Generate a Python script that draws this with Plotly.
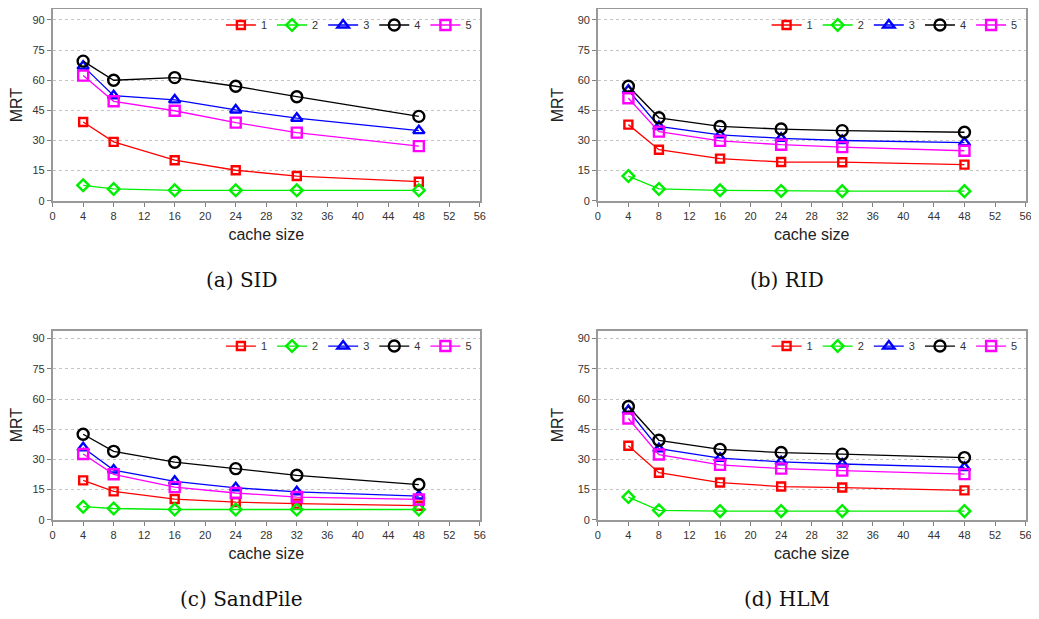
import plotly.graph_objects as go

OFF = 8  # page body margin offset
W, H = 1039 - OFF, 619 - OFF

cache_sizes = [4, 8, 16, 24, 32, 48]
series_names = ["1", "2", "3", "4", "5"]

# MRT values per panel, per series
sid = {
    "1": [39.2, 29.3, 20.2, 15.2, 12.3, 9.5],
    "2": [7.7, 5.9, 5.2, 5.2, 5.2, 5.2],
    "3": [67.0, 52.3, 50.2, 45.2, 41.1, 34.9],
    "4": [69.5, 60.0, 61.3, 57.0, 51.8, 42.0],
    "5": [62.3, 49.5, 44.8, 38.9, 33.9, 27.2],
}
rid = {
    "1": [37.9, 25.4, 21.0, 19.3, 19.2, 18.0],
    "2": [12.3, 5.9, 5.2, 4.9, 4.8, 4.8],
    "3": [55.0, 37.0, 32.8, 31.1, 30.0, 28.9],
    "4": [57.0, 41.3, 37.0, 35.7, 34.9, 34.1],
    "5": [51.0, 34.4, 29.8, 27.9, 26.7, 24.9],
}
sandpile = {
    "1": [19.6, 14.1, 10.3, 8.8, 8.0, 7.0],
    "2": [6.5, 5.6, 5.1, 5.1, 5.1, 5.1],
    "3": [35.8, 24.7, 19.1, 15.9, 13.9, 11.8],
    "4": [42.5, 34.0, 28.6, 25.4, 22.1, 17.5],
    "5": [32.7, 22.6, 16.2, 13.3, 11.3, 10.1],
}
hlm = {
    "1": [36.8, 23.4, 18.5, 16.5, 16.0, 14.6],
    "2": [11.3, 4.7, 4.3, 4.3, 4.3, 4.3],
    "3": [54.3, 35.3, 30.6, 28.8, 27.7, 26.0],
    "4": [56.3, 39.5, 35.0, 33.4, 32.6, 30.9],
    "5": [50.3, 32.4, 27.3, 25.4, 24.4, 22.7],
}
panels = [sid, rid, sandpile, hlm]
captions = ["(a) SID", "(b) RID", "(c) SandPile", "(d) HLM"]

x_ticks = list(range(0, 57, 4))
y_ticks = [0, 15, 30, 45, 60, 75, 90]

colors = {"1": "#ff0000", "2": "#00ee00", "3": "#0000ff", "4": "#000000", "5": "#ff00ff"}
symbols = {"1": "square-open", "2": "diamond-open", "3": "triangle-up-open",
           "4": "circle-open", "5": "square-open"}
msizes = {"1": 8, "2": 9, "3": 10, "4": 11, "5": 10}

# pixel geometry (page coords) of the four plot areas: (left, right, top, bottom, ymax)
geo = [
    (50, 481, 8.5, 202, 95.2),
    (600, 1031.5, 8.5, 202, 95.2),
    (50, 481, 333.3, 524.7, 94.0),
    (600, 1031.5, 333.3, 524.7, 94.0),
]


def fx(px):
    return min(max((px - OFF) / W, 0), 1)


def fy(py):
    return min(max(1 - (py - OFF) / H, 0), 1)


fig = go.Figure()
layout = dict(
    width=W, height=H, margin=dict(l=0, r=0, t=0, b=0),
    paper_bgcolor="white", plot_bgcolor="white",
    font=dict(family="Liberation Sans, Arial, sans-serif", color="#333333"),
    annotations=[],
)

for i, (data, (l, r, t, b, ymax)) in enumerate(zip(panels, geo)):
    n = i + 1
    xa = "x" if n == 1 else f"x{n}"
    ya = "y" if n == 1 else f"y{n}"
    lg = "legend" if n == 1 else f"legend{n}"
    for s in series_names:
        fig.add_trace(go.Scatter(
            x=cache_sizes, y=data[s], name=s, mode="lines+markers",
            line=dict(color=colors[s], width=1.3),
            marker=dict(symbol=symbols[s], size=msizes[s], color=colors[s],
                        line=dict(width=2.4, color=colors[s])),
            xaxis=xa, yaxis=ya, legend=lg, showlegend=True,
        ))
    xkey = "xaxis" if n == 1 else f"xaxis{n}"
    ykey = "yaxis" if n == 1 else f"yaxis{n}"
    layout[xkey] = dict(
        domain=[fx(l), fx(r)], range=[0, 56], anchor=ya,
        tickvals=x_ticks, ticks="outside", ticklen=4, tickcolor="#808080",
        showline=True, linecolor="#999999", linewidth=1.5, mirror=True,
        showgrid=False, zeroline=False,
        tickfont=dict(size=11, color="#333333"),
        title=dict(text="cache size", font=dict(size=16, color="#222222"), standoff=8),
    )
    layout[ykey] = dict(
        domain=[fy(b), fy(t)], range=[0, ymax], anchor=xa,
        tickvals=y_ticks, ticks="outside", ticklen=4, tickcolor="#808080",
        showline=True, linecolor="#999999", linewidth=1.5, mirror=True,
        showgrid=True, gridcolor="#c4c4c4", griddash="3px,3px", gridwidth=1,
        zeroline=False,
        tickfont=dict(size=11, color="#333333"),
        title=dict(text="MRT", font=dict(size=16, color="#222222"), standoff=10),
    )
    layout[lg] = dict(
        orientation="h", x=fx(r - 3), xanchor="right",
        y=fy(t + 1), yanchor="top",
        bgcolor="rgba(0,0,0,0)", font=dict(size=11, color="#333333"),
        itemwidth=30, tracegroupgap=0, traceorder="normal",
    )
    layout["annotations"].append(dict(
        text=captions[i], xref="paper", yref="paper",
        x=fx((l + r) / 2 - 24.5), y=fy(b + 80),
        xanchor="center", yanchor="middle", showarrow=False,
        font=dict(family="DejaVu Serif, Liberation Serif, serif", size=20, color="#111111"),
    ))

fig.update_layout(**layout)
fig.write_html("out.html")
